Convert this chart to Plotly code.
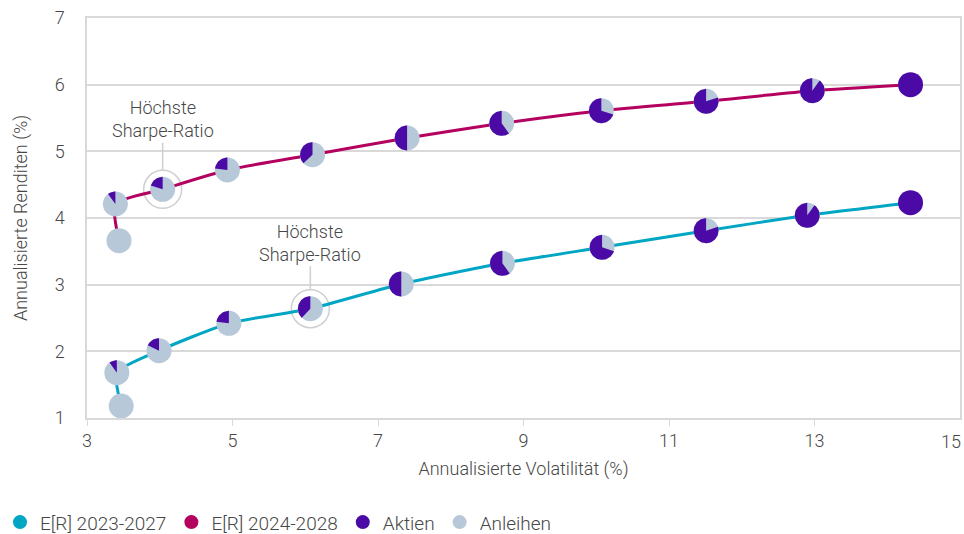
import numpy as np
import plotly.graph_objects as go

# Efficient frontier E[R] 2023-2027: volatility (%), return (%), equity share (%)
vol_2327 = [3.47, 3.41, 3.99, 4.95, 6.07, 7.32, 8.71, 10.08, 11.51, 12.90, 14.32]
ret_2327 = [1.18, 1.68, 2.01, 2.42, 2.64, 3.01, 3.32, 3.56, 3.81, 4.04, 4.23]
eq_2327 = [0, 10, 18, 23, 38, 50, 60, 70, 80, 90, 100]
sharpe_2327 = 4  # index of the maximum Sharpe ratio portfolio

# Efficient frontier E[R] 2024-2028
vol_2428 = [3.44, 3.39, 4.04, 4.93, 6.10, 7.40, 8.70, 10.07, 11.51, 12.97, 14.32]
ret_2428 = [3.66, 4.21, 4.43, 4.72, 4.95, 5.20, 5.42, 5.61, 5.75, 5.91, 6.00]
eq_2428 = [0, 10, 20, 23, 37, 50, 60, 70, 80, 90, 100]
sharpe_2428 = 2

x_ticks = [3, 5, 7, 9, 11, 13, 15]
y_ticks = [1, 2, 3, 4, 5, 6, 7]
legend_names = ["E[R] 2023-2027", "E[R] 2024-2028", "Aktien", "Anleihen"]
sharpe_label = "Höchste<br>Sharpe-Ratio"

C_2327 = "#00A6C3"
C_2428 = "#B4005F"
C_EQ = "#4B0AA6"
C_BOND = "#B7C8D9"
GRID = "#D9D9D9"
TXT = "#474747"
FONT = dict(family="Roboto, Arial, sans-serif", size=18, color=TXT, weight=300)
LEG_FONT = dict(FONT, size=19)

W, H = 964, 534
M = dict(l=87, r=2, t=18, b=116)
X_RANGE = [3, 15]
Y_RANGE = [1, 7]
plot_w = W - M["l"] - M["r"]
plot_h = H - M["t"] - M["b"]
kx = plot_w / (X_RANGE[1] - X_RANGE[0])  # px per x unit
ky = plot_h / (Y_RANGE[1] - Y_RANGE[0])  # px per y unit
PIE_R = 12.5  # pie radius in px


def wedges(xs, ys, shares):
    """Equity wedge of each pie, starting at 12 o'clock, counter-clockwise."""
    wx, wy = [], []
    for x0, y0, s in zip(xs, ys, shares):
        if s <= 0 or s >= 100:
            continue
        span = 2 * np.pi * s / 100
        n = max(10, int(s * 1.5))
        th = np.pi / 2 + np.linspace(0, span, n)
        px = [x0] + list(x0 + PIE_R * np.cos(th) / kx) + [x0, None]
        py = [y0] + list(y0 + PIE_R * np.sin(th) / ky) + [y0, None]
        wx += px
        wy += py
    return wx, wy


fig = go.Figure()

# highlight rings around max Sharpe portfolios
fig.add_trace(go.Scatter(
    x=[vol_2428[sharpe_2428], vol_2327[sharpe_2327]],
    y=[ret_2428[sharpe_2428], ret_2327[sharpe_2327]],
    mode="markers", showlegend=False, hoverinfo="skip",
    marker=dict(symbol="circle-open", size=38, color="#CFCFCF", line=dict(width=1.5)),
))

for xs, ys, shares, col in [(vol_2327, ret_2327, eq_2327, C_2327),
                            (vol_2428, ret_2428, eq_2428, C_2428)]:
    fig.add_trace(go.Scatter(
        x=xs, y=ys, mode="lines", showlegend=False, hoverinfo="skip",
        line=dict(color=col, width=3, shape="spline", smoothing=0.6),
    ))

for xs, ys, shares in [(vol_2327, ret_2327, eq_2327), (vol_2428, ret_2428, eq_2428)]:
    fig.add_trace(go.Scatter(
        x=xs, y=ys, mode="markers", showlegend=False,
        marker=dict(size=2 * PIE_R, color=[C_EQ if s >= 100 else C_BOND for s in shares],
                    line=dict(width=0)),
        customdata=shares,
        hovertemplate="Volatilität %{x}%<br>Rendite %{y}%<br>Aktien %{customdata}%<extra></extra>",
    ))
    wx, wy = wedges(xs, ys, shares)
    fig.add_trace(go.Scatter(
        x=wx, y=wy, mode="lines", fill="toself", fillcolor=C_EQ,
        line=dict(width=0, color=C_EQ), showlegend=False, hoverinfo="skip",
    ))

# legend entries
for name, col in zip(legend_names, [C_2327, C_2428, C_EQ, C_BOND]):
    fig.add_trace(go.Scatter(
        x=[None], y=[None], mode="markers", name=name,
        marker=dict(size=14, color=col, symbol="circle"),
    ))

for i, (xs, ys, ay) in enumerate([(vol_2428, ret_2428, -70), (vol_2327, ret_2327, -66)]):
    k = sharpe_2428 if i == 0 else sharpe_2327
    fig.add_annotation(
        x=xs[k], y=ys[k], text=sharpe_label, showarrow=True, arrowhead=0,
        arrowwidth=1.5, arrowcolor="#CFCFCF", ax=0, ay=ay, standoff=19,
        font=FONT, align="center",
    )

# last x tick label kept inside the figure edge
fig.add_annotation(
    x=x_ticks[-1], y=0, xref="x", yref="paper", text=str(x_ticks[-1]),
    showarrow=False, xanchor="right", yanchor="top", yshift=-11, xshift=3, font=FONT,
)

fig.update_layout(
    width=W, height=H, margin=M,
    paper_bgcolor="white", plot_bgcolor="white",
    font=FONT,
    legend=dict(orientation="h", xref="container", yref="container",
                x=0.0, y=0.022, xanchor="left", yanchor="middle",
                font=LEG_FONT),
)
fig.update_xaxes(
    range=X_RANGE, tickvals=x_ticks[:-1], showgrid=False, zeroline=False,
    showline=True, linecolor=GRID, linewidth=1.5, mirror=True,
    ticks="outside", ticklen=6, tickcolor=GRID, tickfont=FONT,
    title=dict(text="Annualisierte Volatilität (%)", font=FONT, standoff=12),
)
fig.update_yaxes(
    range=Y_RANGE, tickvals=y_ticks, showgrid=True, gridcolor=GRID, gridwidth=1.5,
    zeroline=False, showline=True, linecolor=GRID, linewidth=1.5, mirror=True,
    ticks="", tickfont=FONT, ticklabelstandoff=17,
    title=dict(text="Annualisierte Renditen (%)", font=FONT, standoff=22),
)

fig.write_html("out.html")
